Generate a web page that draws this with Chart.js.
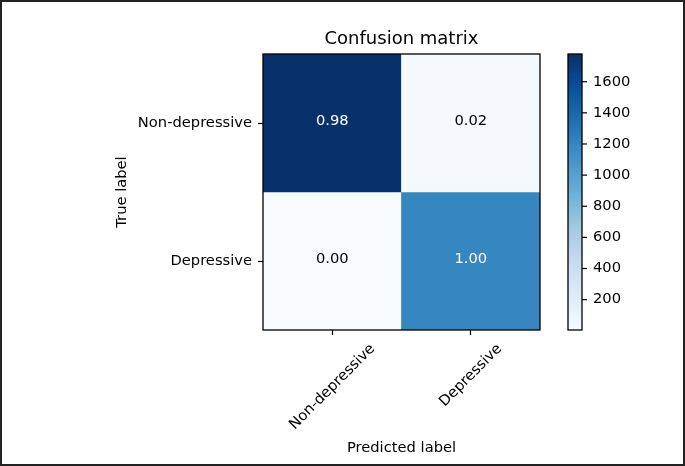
<!DOCTYPE html>
<html>
<head>
<meta charset="utf-8">
<script src="https://cdn.jsdelivr.net/npm/chart.js@4.4.1/dist/chart.umd.min.js"></script>
<style>
  html, body { margin: 0; padding: 0; background: #fff; }
  #wrap { width: 685px; height: 466px; position: relative; }
</style>
</head>
<body>
<div id="wrap"><canvas id="GraficoMatriz"></canvas></div>
<script>
// dados da matriz (contagens) e rótulos
const classLabels = ["Non-depressive", "Depressive"];
const row0Counts = [1778, 36];
const row1Counts = [5, 1192];
const colorbarTicks = [200, 400, 600, 800, 1000, 1200, 1400, 1600];
const colorMin = 5;
const colorMax = 1778;

const countRows = [row0Counts, row1Counts];
const fonte = "DejaVu Sans";
const tamFonte = 14.7;

// paleta "Blues" do matplotlib
const blues = ["#f7fbff", "#deebf7", "#c6dbef", "#9ecae1", "#6baed6", "#4292c6", "#2171b5", "#08519c", "#08306b"];

function hexRgb(h) {
  return [1, 3, 5].map(i => parseInt(h.substr(i, 2), 16));
}

function bluesColor(v) {
  let t = (v - colorMin) / (colorMax - colorMin);
  t = Math.min(1, Math.max(0, t));
  const pos = t * (blues.length - 1);
  const i = Math.min(Math.floor(pos), blues.length - 2);
  const f = pos - i;
  const a = hexRgb(blues[i]);
  const b = hexRgb(blues[i + 1]);
  const c = a.map((x, k) => Math.round(x + (b[k] - x) * f));
  return `rgb(${c[0]},${c[1]},${c[2]})`;
}

Chart.defaults.font.family = fonte;
Chart.defaults.color = "#000";

const datasets = countRows.map((row, r) => ({
  label: classLabels[r],
  data: row.map(() => [r - 0.5, r + 0.5]),
  backgroundColor: row.map(bluesColor),
  borderWidth: 0,
  grouped: false,
  categoryPercentage: 1,
  barPercentage: 1,
}));

const textoCelulas = {
  id: "textoCelulas",
  afterDatasetsDraw(chart) {
    const ctx = chart.ctx;
    ctx.save();
    ctx.font = `${tamFonte}px '${fonte}'`;
    ctx.textAlign = "center";
    ctx.textBaseline = "alphabetic";
    countRows.forEach((row, r) => {
      const total = row.reduce((a, b) => a + b, 0);
      chart.getDatasetMeta(r).data.forEach((bar, c) => {
        const val = row[c] / total;
        ctx.fillStyle = val > 0.5 ? "#fff" : "#000";
        ctx.fillText(val.toFixed(2), bar.x, (bar.y + bar.base) / 2 + 2);
      });
    });
    ctx.restore();
  }
};

const molduraEBarra = {
  id: "molduraEBarra",
  afterDraw(chart) {
    const ctx = chart.ctx;
    const area = chart.chartArea;
    ctx.save();

    // bordas dos eixos
    ctx.strokeStyle = "#000";
    ctx.lineWidth = 1.3;
    ctx.strokeRect(area.left, area.top, area.right - area.left, area.bottom - area.top);

    // rótulos do eixo x girados (centralizados no tick)
    const xs = chart.scales.x;
    ctx.font = `${tamFonte}px '${fonte}'`;
    ctx.fillStyle = "#000";
    ctx.textAlign = "left";
    ctx.textBaseline = "alphabetic";
    classLabels.forEach((lab, i) => {
      const m = ctx.measureText(lab);
      const asc = m.actualBoundingBoxAscent;
      const desc = m.actualBoundingBoxDescent;
      const lado = (m.width + asc + desc) * Math.SQRT1_2;
      const cx = xs.getPixelForTick(i);
      const cy = xs.top + 5 + 6.5 + lado / 2;
      ctx.save();
      ctx.translate(cx, cy);
      ctx.rotate(-Math.PI / 4);
      ctx.fillText(lab, -m.width / 2, (asc - desc) / 2);
      ctx.restore();
    });

    // barra de cores
    const cb = chart.scales.cb;
    const x0 = area.right + 28;
    const w = 14;
    for (let py = Math.floor(cb.top); py < cb.bottom; py++) {
      ctx.fillStyle = bluesColor(cb.getValueForPixel(py + 0.5));
      ctx.fillRect(x0, py, w, 1);
    }
    ctx.strokeStyle = "#000";
    ctx.lineWidth = 1.3;
    ctx.strokeRect(x0, cb.top, w, cb.bottom - cb.top);
    ctx.lineWidth = 1.2;
    colorbarTicks.forEach(v => {
      const py = cb.getPixelForValue(v);
      ctx.beginPath();
      ctx.moveTo(x0 + w, py);
      ctx.lineTo(x0 + w + 5, py);
      ctx.stroke();
    });

    // moldura externa da figura
    ctx.strokeStyle = "#222";
    ctx.lineWidth = 2;
    ctx.strokeRect(1, 1, chart.width - 2, chart.height - 2);
    ctx.restore();
  }
};

new Chart(document.getElementById("GraficoMatriz"), {
  type: "bar",
  data: {
    labels: classLabels,
    datasets: datasets,
  },
  options: {
    responsive: true,
    maintainAspectRatio: false,
    animation: false,
    layout: { padding: 0 },
    scales: {
      x: {
        type: "category",
        offset: true,
        grid: { offset: false, drawOnChartArea: false, drawTicks: true, tickLength: 5, tickColor: "#000", tickWidth: 1.2 },
        border: { display: false },
        ticks: { display: false },
        title: {
          display: true,
          text: "Predicted label",
          color: "#000",
          font: { size: tamFonte },
          padding: { top: 0, bottom: 9.5 },
        },
        afterFit(scale) { scale.height = 136; },
      },
      y: {
        type: "linear",
        position: "left",
        reverse: true,
        min: -0.5,
        max: 1.5,
        afterBuildTicks(scale) { scale.ticks = classLabels.map((_, i) => ({ value: i })); },
        ticks: { callback: v => classLabels[v], font: { size: tamFonte }, color: "#000", padding: 6 },
        grid: { drawOnChartArea: false, drawTicks: true, tickLength: 5, tickColor: "#000", tickWidth: 1.2 },
        border: { display: false },
        title: {
          display: true,
          text: "True label",
          color: "#000",
          font: { size: tamFonte },
          padding: { top: 113, bottom: 0 },
        },
        afterFit(scale) {
          scale.width = 263;
          scale.paddingTop = 0;
          scale.paddingBottom = 0;
        },
      },
      cb: {
        type: "linear",
        position: "right",
        min: colorMin,
        max: colorMax,
        afterBuildTicks(scale) { scale.ticks = colorbarTicks.map(v => ({ value: v })); },
        ticks: { callback: v => String(v), font: { size: tamFonte }, color: "#000", padding: 53 },
        grid: { display: false, drawTicks: false },
        border: { display: false },
        afterFit(scale) {
          scale.width = 145;
          scale.paddingTop = 0;
          scale.paddingBottom = 0;
        },
      },
    },
    plugins: {
      legend: { display: false },
      tooltip: { enabled: false },
      title: {
        display: true,
        text: "Confusion matrix",
        fullSize: false,
        color: "#000",
        font: { size: 18, weight: "normal" },
        padding: { top: 29, bottom: 3.4 },
      },
    },
  },
  plugins: [textoCelulas, molduraEBarra],
});
</script>
</body>
</html>
